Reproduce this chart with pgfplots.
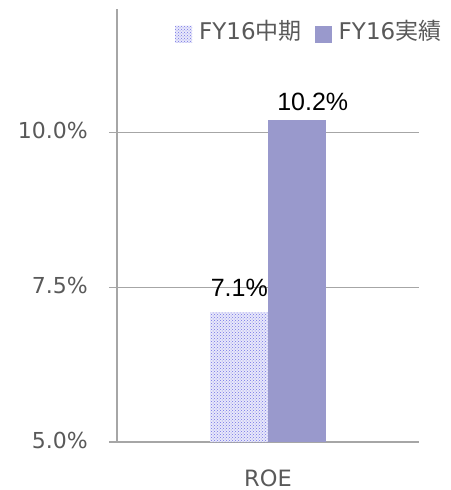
\documentclass[border=0pt]{standalone}
\usepackage{pgfplots}
\pgfplotsset{compat=1.18}
\usetikzlibrary{patterns}
\usepackage{fontspec}
\setmainfont{DejaVu Sans}
\newfontfamily\dv{DejaVu Sans}
\newfontfamily\lib{Liberation Sans}
\newfontfamily\cjk{Noto Sans CJK JP}

\definecolor{gridgrey}{HTML}{A6A6A6}
\definecolor{txtgrey}{HTML}{595959}
\definecolor{barpurple}{HTML}{9999CC}
\definecolor{dotblue}{RGB}{115,115,230}
\definecolor{dotback}{RGB}{232,232,250}

\begin{document}
\begin{tikzpicture}
\path[use as bounding box] (-117pt,-48pt) rectangle (333pt,442pt);
\begin{axis}[
  scale only axis,
  width=302pt, height=433pt,
  xmin=-1, xmax=1,
  ymin=5, ymax=12,
  ybar=0pt, bar width=57.5pt,
  /pgf/number format/assume math mode=true,
  axis x line*=bottom, axis y line*=left,
  axis line style={gridgrey, line width=1.5pt, -},
  ytick={5,7.5,10},
  ymajorgrids, grid style={gridgrey, line width=1.5pt},
  tick align=outside,
  major tick length=8pt,
  ytick style={gridgrey, line width=1.5pt},
  yticklabel={\pgfmathprintnumber[fixed,fixed zerofill,precision=1]{\tick}\%},
  yticklabel style={font=\fontsize{22}{26}\selectfont\dv, text=txtgrey,
    inner sep=0pt, xshift=-21pt, yshift=2pt},
  xtick={0}, xticklabels={ROE},
  xtick style={draw=none},
  xticklabel style={font=\fontsize{22.5}{26}\selectfont\dv, text=txtgrey,
    inner sep=0pt, anchor=north, yshift=-19.5pt},
  legend columns=2,
  legend image code/.code={\path[#1,draw=none] (0pt,-12.5pt) rectangle (17pt,4.5pt);},
  legend style={draw=none, fill=none, inner sep=0pt,
    at={(0.192,0.975)}, anchor=north west,
    font=\fontsize{23}{27}\selectfont\dv, text=txtgrey,
    nodes={inner sep=0pt},
    /tikz/every odd column/.append style={column sep=7pt},
    /tikz/every even column/.append style={column sep=13pt}},
  nodes near coords={\pgfmathprintnumber[fixed,fixed zerofill,precision=1]{\pgfplotspointmeta}\%},
  nodes near coords style={font=\fontsize{25}{29}\selectfont\lib, text=black,
    inner sep=0pt, anchor=base},
]
\addplot[fill=dotback, postaction={pattern=crosshatch dots, pattern color=dotblue},
  draw=none, nodes near coords style={yshift=16pt}] coordinates {(0,7.1)};
\addlegendentry{FY16{\cjk 中期}}
\addplot[fill=barpurple, draw=none,
  nodes near coords style={yshift=10pt, xshift=16pt}] coordinates {(0,10.2)};
\addlegendentry{FY16{\cjk 実績}}
\end{axis}
\end{tikzpicture}
\end{document}
